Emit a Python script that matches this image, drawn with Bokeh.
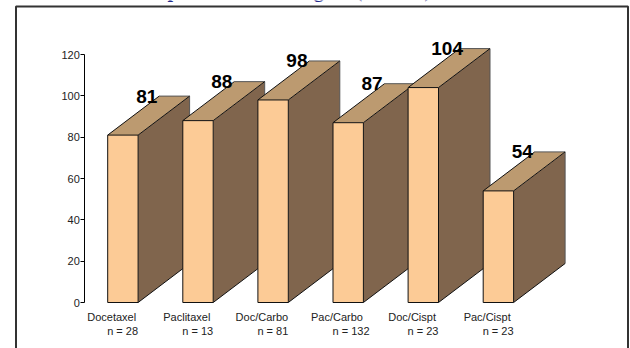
from bokeh.core.properties import value
from bokeh.embed import file_html
from bokeh.models import BoxAnnotation, ColumnDataSource, FixedTicker, LinearAxis, Range1d
from bokeh.plotting import figure
from bokeh.resources import INLINE

# Chart values
regimens = ["Docetaxel", "Paclitaxel", "Doc/Carbo", "Pac/Carbo", "Doc/Cispt", "Pac/Cispt"]
counts = ["n = 28", "n = 13", "n = 81", "n = 132", "n = 23", "n = 23"]
values = [81, 88, 98, 87, 104, 54]
y_ticks = [0, 20, 40, 60, 80, 100, 120]
heading = "Comparison of the Region (n = 300)"

# Page layout, in pixels
WIDTH, HEIGHT = 630, 348
ZERO_PX, TOP_PX = 302, 54          # vertical positions of 0 and 120
FIRST_BAR_PX, BAR_STEP_PX = 107.2, 75.1
BAR_W_PX, DEPTH_X_PX, DEPTH_Y_PX = 30.4, 51.5, 39.0
AXIS_PX = 84.3

px_per_unit = (ZERO_PX - TOP_PX) / 120
def y_at(py):
    return (ZERO_PX - py) / px_per_unit
def x_at(px):
    return (px - FIRST_BAR_PX) / BAR_STEP_PX

bar_w = BAR_W_PX / BAR_STEP_PX
dx = DEPTH_X_PX / BAR_STEP_PX
dy = DEPTH_Y_PX / px_per_unit

FRONT, TOP, SIDE = "#FCCB96", "#BC9A70", "#80654D"
SERIF, SANS = "Liberation Serif", "Liberation Sans"

p = figure(
    width=WIDTH, height=HEIGHT, output_backend="svg", toolbar_location=None,
    x_range=Range1d(x_at(0), x_at(WIDTH)), y_range=Range1d(y_at(HEIGHT), y_at(0)),
    x_axis_type=None, y_axis_type=None, min_border=0,
    outline_line_color=None, background_fill_color="white", border_fill_color="white",
)
p.grid.visible = False

# Surrounding panel; its lower edge falls below the page
p.add_layout(BoxAnnotation(
    left=x_at(15.5), right=x_at(627.5), top=y_at(6), bottom=y_at(HEIGHT + 20),
    fill_color=None, fill_alpha=0, line_color="#333333", line_alpha=1, line_width=2,
    level="underlay",
))

# Each bar in turn, so that a later front face covers the earlier bar's side
for i, v in enumerate(values):
    x0, x1 = i, i + bar_w
    p.patch([x1, x1 + dx, x1 + dx, x1], [0, dy, v + dy, v], fill_color=SIDE, line_color=None)
    p.patch([x0, x1, x1 + dx, x0 + dx], [v, v, v + dy, v + dy], fill_color=TOP, line_color=None)
    p.multi_line(
        [[x0 + dx, x1 + dx, x1 + dx]], [[v + dy, v + dy, dy]],
        line_color="#555555", line_width=1,
    )
    p.multi_line(
        [[x0, x0 + dx], [x1, x1 + dx], [x1, x1 + dx]],
        [[v, v + dy], [v, v + dy], [0, dy]],
        line_color="#111111", line_width=1,
    )
    p.quad(left=x0, right=x1, bottom=0, top=v, fill_color=FRONT, line_color="#111111", line_width=1)

# Value labels, sitting at the rear of each bar's top face
value_src = ColumnDataSource(dict(
    x=[i + 39 / BAR_STEP_PX for i in range(len(values))],
    y=[v + dy for v in values],
    t=[str(v) for v in values],
))
p.text("x", "y", text="t", source=value_src, text_font=value(SANS), text_font_style="bold",
       text_font_size="19px", text_color="black", text_align="center", text_baseline="middle")

# Two-line category captions
name_src = ColumnDataSource(dict(
    x=[i + 4 / BAR_STEP_PX for i in range(len(regimens))],
    y=[y_at(316)] * len(regimens),
    t=regimens,
))
p.text("x", "y", text="t", source=name_src, text_font=value(SANS), text_font_size="11px",
       text_color="#222222", text_align="center", text_baseline="middle")
count_src = ColumnDataSource(dict(
    x=[i - 0.5 / BAR_STEP_PX for i in range(len(counts))],
    y=[y_at(330)] * len(counts),
    t=counts,
))
p.text("x", "y", text="t", source=count_src, text_font=value(SANS), text_font_size="11px",
       text_color="#222222", text_align="left", text_baseline="middle")

# Heading, which runs off the top of the page
p.text([x_at(126)], [y_at(-11)], text=[heading], text_font=value(SERIF), text_font_style="bold",
       text_font_size="20px", text_color="#1F2A8C", text_align="left", text_baseline="alphabetic")

# Value axis, held at a fixed spot inside the plot area
axis = LinearAxis(
    ticker=FixedTicker(ticks=y_ticks), bounds=(0, 120), fixed_location=x_at(AXIS_PX),
    axis_line_color="black", major_tick_line_color="black", minor_tick_line_color=None,
    major_tick_in=0, major_tick_out=4, major_label_standoff=1,
    major_label_text_font=SANS, major_label_text_font_size="11px", major_label_text_color="#222222",
)
p.add_layout(axis, "left")

open("out.html", "w").write(file_html(p, INLINE))
